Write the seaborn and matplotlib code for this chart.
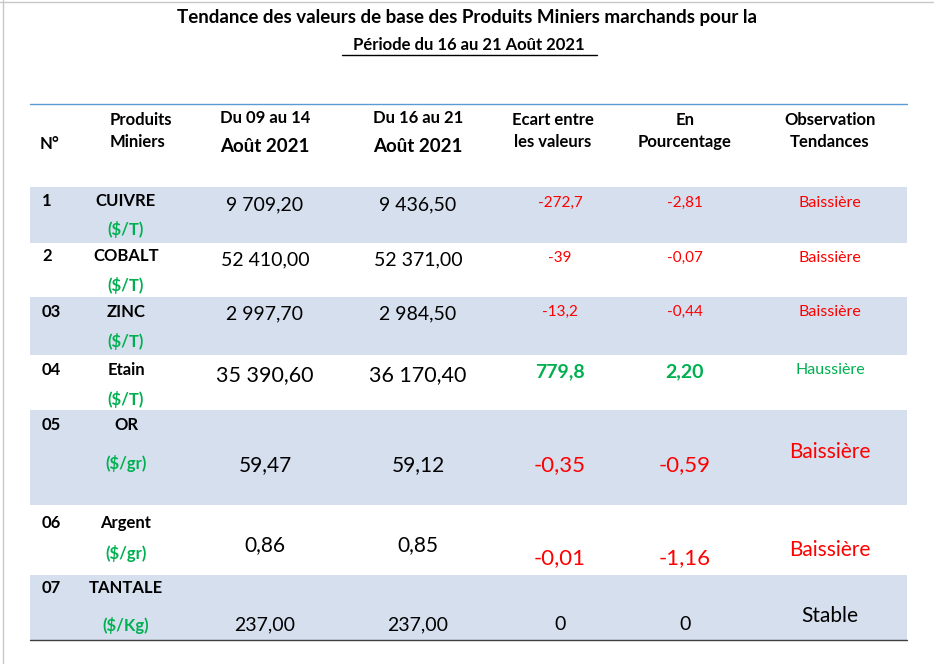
import matplotlib
matplotlib.use("Agg")
import matplotlib.pyplot as plt
import seaborn as sns

sns.set_theme(style="white", font="Lato", rc={"text.color": "black"})

numbers = ["1", "2", "03", "04", "05", "06", "07"]
products = ["CUIVRE", "COBALT", "ZINC", "Etain", "OR", "Argent", "TANTALE"]
units = ["($/T)", "($/T)", "($/T)", "($/T)", "($/gr)", "($/gr)", "($/Kg)"]
week1 = ["9 709,20", "52 410,00", "2 997,70", "35 390,60", "59,47", "0,86", "237,00"]
week2 = ["9 436,50", "52 371,00", "2 984,50", "36 170,40", "59,12", "0,85", "237,00"]
ecart = ["-272,7", "-39", "-13,2", "779,8", "-0,35", "-0,01", "0"]
pct = ["-2,81", "-0,07", "-0,44", "2,20", "-0,59", "-1,16", "0"]
trend = ["Baissière", "Baissière", "Baissière", "Haussière", "Baissière", "Baissière", "Stable"]

# layout (pixels)
row_top = [187, 243, 297, 355, 410, 505, 575, 640]
y_name = [201, 256, 312, 370, 425, 523, 588]
y_unit = [230, 285, 342, 400, 463, 553, 625]
y_val = [205, 260, 314, 375, 465, 545, 625]
y_ec = [203, 258, 312, 372, 465, 558, 625]
y_obs = [203, 258, 312, 370, 452, 550, 616]
val_size = [14, 14, 14, 15.5, 15, 15, 14]
ec_size = [11, 11, 11, 14, 16, 16, 14]
obs_size = [11.5, 11.5, 11.5, 11.5, 15, 15, 15]
ec_bold = [False, False, False, True, False, False, False]
RED, GREEN = "#FF0000", "#00B050"
col_ec = [RED, RED, RED, GREEN, RED, RED, "black"]
col_obs = [RED, RED, RED, GREEN, RED, RED, "black"]
xs = dict(n=50, p=126, w1=265, w2=418, ec=560, pc=685, ob=830)

fig = plt.figure(figsize=(9.34, 6.64), dpi=100)
ax = fig.add_axes([0, 0, 1, 1])
ax.set_xlim(0, 934); ax.set_ylim(664, 0); ax.axis("off")

ax.plot([3, 3], [0, 664], color="#C8C8C8", lw=1)
ax.plot([0, 934], [2, 2], color="#C8C8C8", lw=1)

ax.text(467, 18, "Tendance des valeurs de base des Produits Miniers marchands pour la",
        ha="center", va="center", fontsize=13.5, fontweight="bold")
ax.text(469, 45, "Période du 16 au 21 Août 2021", ha="center", va="center",
        fontsize=12, fontweight="bold")
ax.plot([342, 597], [55, 55], color="black", lw=1)

ax.plot([30, 907], [104, 104], color="#5B9BD5", lw=1)
for i in range(7):
    if i % 2 == 0:
        ax.add_patch(plt.Rectangle((30, row_top[i]), 877, row_top[i+1]-row_top[i],
                                   color="#D6DFEE", lw=0))
ax.plot([30, 907], [640, 640], color="#404040", lw=1)

hb = dict(ha="center", va="center", fontweight="bold", fontsize=12)
ax.text(50, 144, "N°", **hb)
ax.text(110, 131, "Produits\nMiniers", ha="left", va="center", fontweight="bold",
        fontsize=12, linespacing=1.4)
for x, a in [(265, "Du 09 au 14"), (418, "Du 16 au 21")]:
    ax.text(x, 118, a, **hb)
    ax.text(x, 147, "Août 2021", ha="center", va="center", fontweight="bold", fontsize=13.5)
ax.text(553, 131, "Ecart entre\nles valeurs", linespacing=1.4, **hb)
ax.text(685, 131, "En\nPourcentage", linespacing=1.4, **hb)
ax.text(830, 131, "Observation\nTendances", linespacing=1.4, **hb)

for i in range(7):
    ax.text(xs["n"] - 8, y_name[i], numbers[i], ha="left", va="center", fontsize=12, fontweight="bold")
    ax.text(xs["p"], y_name[i], products[i], ha="center", va="center", fontsize=12, fontweight="bold")
    ax.text(xs["p"], y_unit[i], units[i], ha="center", va="center", fontsize=12,
            fontweight="bold", color=GREEN)
    ax.text(xs["w1"], y_val[i], week1[i], ha="center", va="center", fontsize=val_size[i])
    ax.text(xs["w2"], y_val[i], week2[i], ha="center", va="center", fontsize=val_size[i])
    w = "bold" if ec_bold[i] else "normal"
    ax.text(xs["ec"], y_ec[i], ecart[i], ha="center", va="center", fontsize=ec_size[i],
            color=col_ec[i], fontweight=w)
    ax.text(xs["pc"], y_ec[i], pct[i], ha="center", va="center", fontsize=ec_size[i],
            color=col_ec[i], fontweight=w)
    ax.text(xs["ob"], y_obs[i], trend[i], ha="center", va="center", fontsize=obs_size[i],
            color=col_obs[i])

fig.savefig("out.png", dpi=100)
